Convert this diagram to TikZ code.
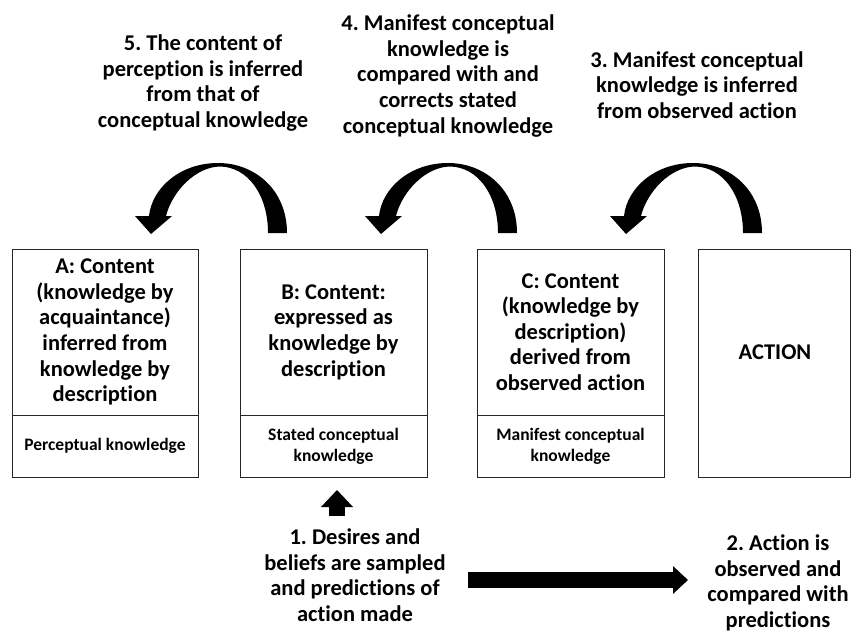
\documentclass[tikz,border=0pt]{standalone}
\usepackage{fontspec}
\setmainfont{Carlito}[Ligatures={NoCommon}]
\usetikzlibrary{arrows.meta}
\frenchspacing
\begin{document}
\begin{tikzpicture}[x=1pt,y=-1pt,
  every node/.style={font=\bfseries\fontsize{22.5}{25.6}\selectfont, align=center, inner sep=0pt},
  upperbox/.style={draw=black!85, line width=0.9pt, minimum width=186pt, minimum height=166pt},
  lowerbox/.style={draw=black!85, line width=0.9pt, minimum width=186pt, minimum height=62pt, font=\bfseries\fontsize{17.5}{21}\selectfont},
  curvedarrow/.style={fill=black},
  blockarrow/.style={line width=15.5pt, -{Triangle[length=15pt,width=27pt]}},
  uparrow/.style={line width=16pt, -{Triangle[length=17pt,width=31pt]}},
]
\fill[white] (0,0) rectangle (861,634);
\useasboundingbox (0,0) rectangle (861,634);

% boxes
\node[upperbox] (Atop) at (105,332) {A: Content\\(knowledge by\\acquaintance)\\inferred from\\knowledge by\\description};
\node[lowerbox] (Abot) at (105,446) {Perceptual knowledge};
\node[upperbox, minimum width=187pt] (Btop) at (333.5,332) {B: Content:\\expressed as\\knowledge by\\description};
\node[lowerbox, minimum width=187pt] (Bbot) at (333.5,446) {Stated conceptual\\knowledge};
\node[upperbox, minimum width=187pt] (Ctop) at (570.5,332) {C: Content\\(knowledge by\\description)\\derived from\\observed action};
\node[lowerbox, minimum width=187pt] (Cbot) at (570.5,446) {Manifest conceptual\\knowledge};
\node[draw=black!85, line width=0.9pt, minimum width=152pt, minimum height=228pt] (Dbox) at (774,363) {};
\node (Dtext) at (775,352) {ACTION};

% top labels
\node (L5) at (203,83) {5. The content of\\perception is inferred\\from that of\\conceptual knowledge};
\node (L4) at (448,76) {4. Manifest conceptual\\knowledge is\\compared with and\\corrects stated\\conceptual knowledge};
\node (L3) at (697,85) {3. Manifest conceptual\\knowledge is inferred\\from observed action};

% bottom labels
\node (L1) at (355,575) {1. Desires and\\beliefs are sampled\\and predictions of\\action made};
\node (L2) at (778,583) {2. Action is\\observed and\\compared with\\predictions};

% curved arrows
\foreach \dx in {0,230,475}{
  \fill[curvedarrow, shift={(\dx,0)}] (287,233) .. controls (287,190) and (255,163) .. (218,163)
    .. controls (180,163) and (152,188) .. (149,216) -- (135,216) -- (151,234) -- (172,216) -- (166,216)
    .. controls (172,192) and (195,167) .. (220,166.5) .. controls (248,167) and (268,195) .. (268,233) -- cycle;
}

% straight block arrows
\coordinate (upS) at (337,516);
\coordinate (upE) at (337,490);
\draw[uparrow] (upS) -- (upE);
\coordinate (rS) at (468,580);
\coordinate (rE) at (688,580);
\draw[blockarrow] (rS) -- (rE);
\end{tikzpicture}
\end{document}
